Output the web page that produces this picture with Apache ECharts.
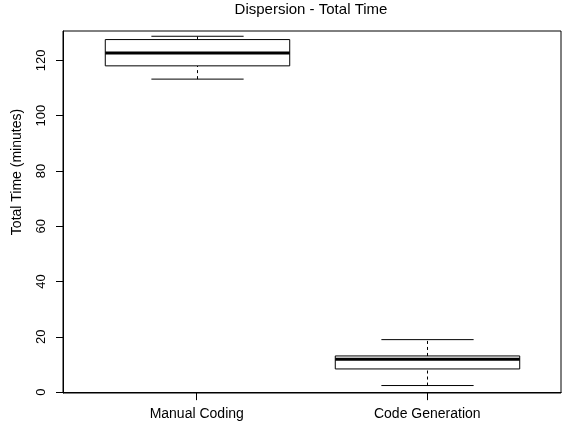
<!DOCTYPE html>
<html>
<head>
<meta charset="utf-8">
<script src="https://cdn.jsdelivr.net/npm/echarts@6/dist/echarts.min.js"></script>
<style>
html,body{margin:0;padding:0;background:#fff;}
#chart{width:563px;height:428px;}
</style>
</head>
<body>
<div id="chart"></div>
<script>
// ---- data ----
const categories = ['Manual Coding', 'Code Generation'];
const categoryPositions = [1, 2];
// [lower whisker, Q1, median, Q3, upper whisker]
const manualCoding = [113.2, 118.0, 122.6, 127.5, 128.7];
const codeGeneration = [2.4, 8.4, 11.9, 13.1, 19.0];
const yTicks = [0, 20, 40, 60, 80, 100, 120];

const seriesData = [
  [categoryPositions[0]].concat(manualCoding),
  [categoryPositions[1]].concat(codeGeneration)
];

const FONT = 'Liberation Sans, Arial, Helvetica, sans-serif';
const chart = echarts.init(document.getElementById('chart'), null, {renderer: 'canvas'});

function renderBox(params, api) {
  const x = api.value(0);
  const pMin = api.coord([x, api.value(1)]);
  const pQ1 = api.coord([x, api.value(2)]);
  const pMed = api.coord([x, api.value(3)]);
  const pQ3 = api.coord([x, api.value(4)]);
  const pMax = api.coord([x, api.value(5)]);
  const boxW = api.size([0.8, 0])[0];
  const half = boxW / 2;
  const cap = boxW / 4;
  const cx = Math.round(pMin[0]) + 0.5;
  const line = (x1, y1, x2, y2, extra) => ({
    type: 'line',
    shape: {x1, y1, x2, y2},
    style: Object.assign({stroke: '#000', lineWidth: 1, fill: null}, extra || {})
  });
  return {
    type: 'group',
    children: [
      line(cx, pMin[1], cx, pQ1[1], {lineDash: [3, 3]}),
      line(cx, pQ3[1], cx, pMax[1], {lineDash: [3, 3]}),
      line(cx - cap, pMin[1], cx + cap, pMin[1]),
      line(cx - cap, pMax[1], cx + cap, pMax[1]),
      {
        type: 'rect',
        shape: {x: cx - half, y: pQ3[1], width: boxW, height: pQ1[1] - pQ3[1]},
        style: {stroke: '#000', lineWidth: 1, fill: '#fff'}
      },
      line(cx - half, pMed[1], cx + half, pMed[1], {lineWidth: 3})
    ]
  };
}

chart.setOption({
  animation: false,
  backgroundColor: '#fff',
  title: {
    text: 'Dispersion - Total Time',
    left: 311,
    top: 2,
    padding: 0,
    textAlign: 'center',
    textStyle: {fontFamily: FONT, fontSize: 15, fontWeight: 'normal', color: '#000'}
  },
  grid: {
    left: 63, right: 2, top: 31, bottom: 35,
    show: true, borderColor: '#000', borderWidth: 1, backgroundColor: 'transparent'
  },
  xAxis: {
    type: 'value',
    min: 0.42,
    max: 2.58,
    axisLine: {show: true, lineStyle: {color: '#000', width: 1}},
    axisTick: {show: true, length: 8, inside: false, customValues: categoryPositions, lineStyle: {color: '#000'}},
    axisLabel: {
      show: true,
      customValues: categoryPositions,
      margin: 14,
      fontFamily: FONT, fontSize: 14, color: '#000',
      formatter: function (v) {
        const i = categoryPositions.indexOf(Math.round(v));
        return i >= 0 ? categories[i] : '';
      }
    },
    splitLine: {show: false}
  },
  yAxis: {
    type: 'value',
    min: -0.3,
    max: 130.6,
    name: 'Total Time (minutes)',
    nameLocation: 'middle',
    nameRotate: 90,
    nameGap: 39,
    nameTextStyle: {fontFamily: FONT, fontSize: 14, color: '#000', padding: [0, 0, 0, 80]},
    axisLine: {show: true, lineStyle: {color: '#000', width: 1}},
    axisTick: {show: true, length: 7, inside: false, customValues: yTicks, lineStyle: {color: '#000'}},
    axisLabel: {
      show: true,
      customValues: yTicks,
      rotate: 90,
      margin: 15,
      fontFamily: FONT, fontSize: 13, color: '#000'
    },
    splitLine: {show: false}
  },
  series: [{
    type: 'custom',
    renderItem: renderBox,
    encode: {x: 0, y: [1, 2, 3, 4, 5]},
    data: seriesData,
    clip: false
  }]
});
</script>
</body>
</html>
